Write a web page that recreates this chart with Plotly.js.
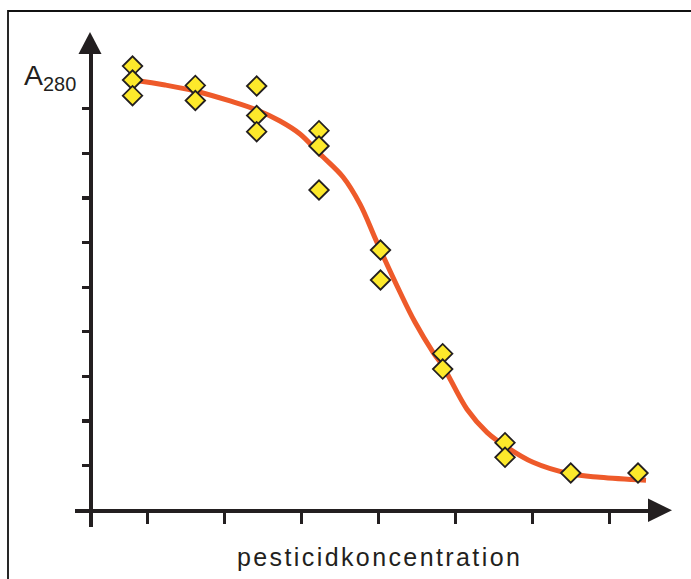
<!DOCTYPE html>
<html><head><meta charset="utf-8">
<script src="https://cdn.plot.ly/plotly-3.0.1.min.js"></script>
<style>html,body{margin:0;padding:0;background:#fff;} #chart{width:691px;height:579px;}</style>
</head><body><div id="chart"></div>
<script>
const concX = [0.806, 0.806, 0.806, 1.622, 1.622, 2.419, 2.419, 2.419, 3.229, 3.229, 3.229,
               4.028, 4.028, 4.836, 4.836, 5.646, 5.646, 6.50, 7.374];
const absY  = [9.956, 9.643, 9.291, 9.52, 9.183, 9.508, 8.847, 8.484, 8.506, 8.164, 7.178,
               5.833, 5.161, 3.509, 3.166, 1.515, 1.188, 0.836, 0.836];
// Fitted curve
const fitX = [0.812, 1.228, 1.618, 2.073, 2.423, 2.722, 2.982, 3.242, 3.541, 3.762, 3.983,
              4.282, 4.477, 4.711, 4.841, 5.152, 5.412, 5.672, 6.010, 6.491, 6.880, 7.478];
const fitY = [9.643, 9.531, 9.397, 9.173, 8.971, 8.724, 8.433, 7.984, 7.469, 6.860, 6.0,
              4.886, 4.213, 3.541, 3.227, 2.264, 1.748, 1.412, 1.076, 0.818, 0.739, 0.672];
const xTicks = [1, 2, 3, 4, 5, 6, 7];
const yTicks = [1, 2, 3, 4, 5, 6, 7, 8, 9];
const xTitle = 'pesticidkoncentration';
const yTitle = 'A<sub>280</sub>';

const INK = '#231F20';
const W = 691, H = 579;
const L = 75, R = 650, T = 50, B = 527;
const px = x => (x - L) / (R - L);
const py = y => (B - y) / (B - T);

const traces = [
  {x: fitX, y: fitY, mode: 'lines', line: {shape: 'spline', smoothing: 1, color: '#EE5A2A', width: 5},
   hoverinfo: 'skip', showlegend: false, cliponaxis: false},
  {x: concX, y: absY, mode: 'markers', cliponaxis: false, showlegend: false,
   marker: {symbol: 'diamond', size: 15, color: '#FDE92B', line: {color: INK, width: 1.8}}}
];

const layout = {
  width: W, height: H, autosize: false,
  margin: {l: L, r: W - R, t: T, b: H - B, pad: 0},
  paper_bgcolor: '#fff', plot_bgcolor: '#fff',
  showlegend: false,
  font: {family: 'Liberation Sans, Arial, sans-serif', color: INK},
  xaxis: {
    range: [0.05847, 7.5299], anchor: 'free', position: py(510.3),
    showgrid: false, zeroline: false, showline: true, linecolor: INK, linewidth: 3.6,
    tickmode: 'array', tickvals: xTicks, ticks: 'outside', ticklen: 11, tickwidth: 3.3, tickcolor: INK,
    showticklabels: false, fixedrange: true
  },
  yaxis: {
    range: [-0.3742, 10.315], anchor: 'free', position: px(90),
    showgrid: false, zeroline: false, showline: true, linecolor: INK, linewidth: 3.6,
    tickmode: 'array', tickvals: yTicks, ticks: 'outside', ticklen: 7.2, tickwidth: 3.3, tickcolor: INK,
    showticklabels: false, fixedrange: true
  },
  yaxis2: {
    range: [-0.3742, 10.315], overlaying: 'y', anchor: 'free', position: px(90), side: 'left',
    showgrid: false, zeroline: false, showline: false,
    tickmode: 'array', tickvals: yTicks, ticks: 'inside', ticklen: 5.5, tickwidth: 3.3, tickcolor: INK,
    showticklabels: false, fixedrange: true
  },
  shapes: [
    {type: 'rect', xref: 'paper', yref: 'paper', x0: px(8), y0: py(11), x1: px(720), y1: py(620),
     line: {color: '#111', width: 1.8}, fillcolor: 'rgba(0,0,0,0)', layer: 'below'},
    {type: 'path', xref: 'paper', yref: 'paper',
     path: `M${px(90)},${py(32)} L${px(78.5)},${py(54)} L${px(101.5)},${py(54)} Z`,
     fillcolor: INK, line: {width: 0}},
    {type: 'path', xref: 'paper', yref: 'paper',
     path: `M${px(672)},${py(510.3)} L${px(648)},${py(498.5)} L${px(648)},${py(522)} Z`,
     fillcolor: INK, line: {width: 0}}
  ],
  annotations: [
    {xref: 'paper', yref: 'paper', x: px(22), y: py(77), xanchor: 'left', yanchor: 'middle',
     text: yTitle, showarrow: false, font: {size: 28.5, color: INK}},
    {xref: 'paper', yref: 'paper', x: px(379), y: py(557), xanchor: 'center', yanchor: 'middle',
     text: '<span style="letter-spacing:2.4px">' + xTitle + '</span>', showarrow: false,
     font: {size: 25, color: INK}}
  ]
};

Plotly.newPlot('chart', traces, layout, {displayModeBar: false, staticPlot: true});
</script>
</body></html>
